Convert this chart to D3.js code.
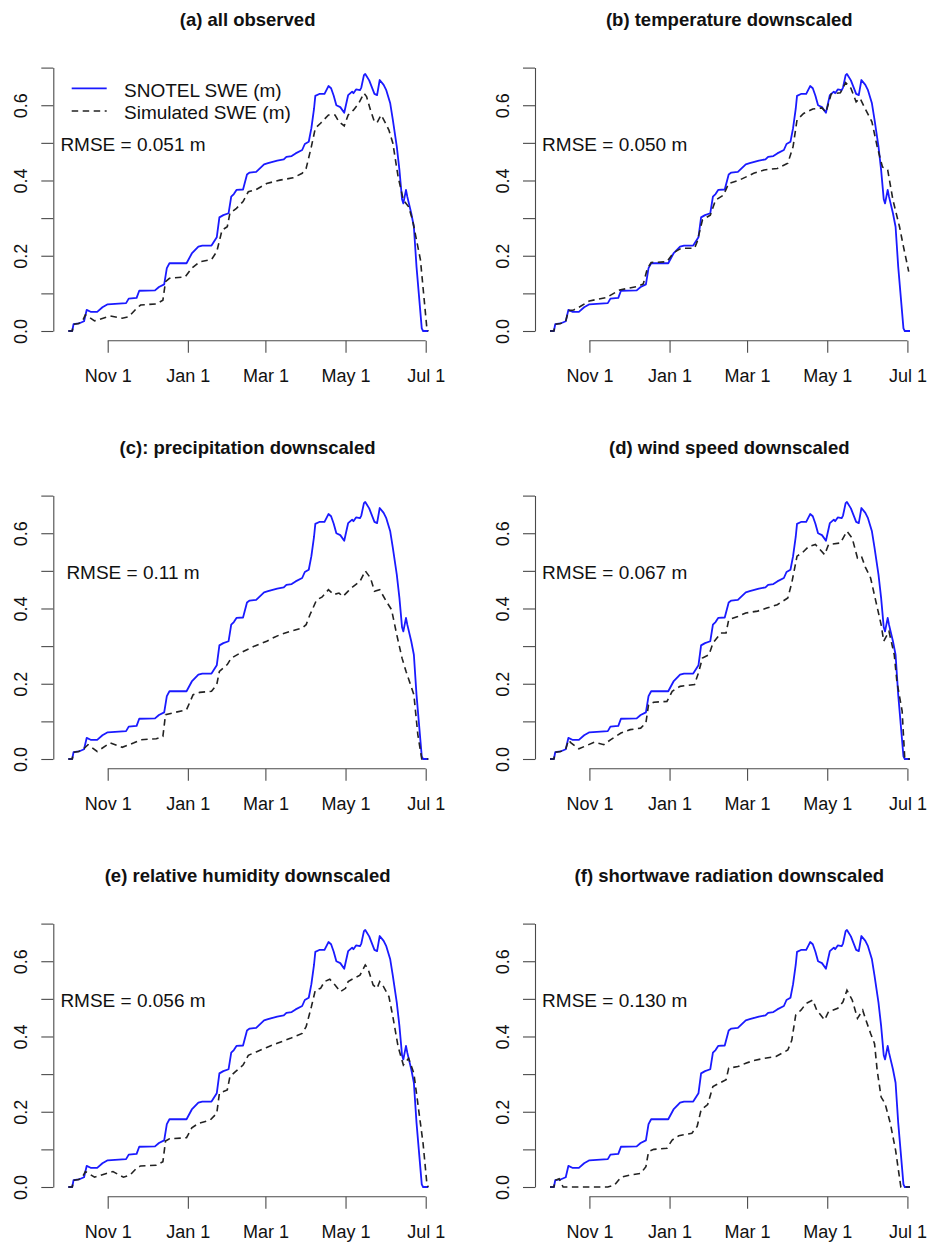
<!DOCTYPE html>
<html>
<head>
<meta charset="utf-8">
<script src="https://cdn.jsdelivr.net/npm/d3@7"></script>
<style>
  body { margin: 0; background: #fff; }
  svg { display: block; font-family: "Liberation Sans", Arial, sans-serif; }
</style>
</head>
<body>
<svg id="chart" width="928" height="1245"></svg>
<script>
// water year starts Oct 1; every series is [day since Oct 1, SWE in m]
var waterYearStart = new Date(Date.UTC(2006, 9, 1));

var titles = [
    "(a) all observed",
    "(b) temperature downscaled",
    "(c): precipitation downscaled",
    "(d) wind speed downscaled",
    "(e) relative humidity downscaled",
    "(f) shortwave radiation downscaled"
];
var rmseLabels = ["RMSE = 0.051 m", "RMSE = 0.050 m", "RMSE = 0.11 m",
                  "RMSE = 0.067 m", "RMSE = 0.056 m", "RMSE = 0.130 m"];

var yTicks = [0, 0.1, 0.2, 0.3, 0.4, 0.5, 0.6, 0.7];
var xTickDays = [31, 92, 151, 212, 273];   // Nov 1, Jan 1, Mar 1, May 1, Jul 1

var snotel = [[1,0],[4,0],[5,0.018],[9,0.020],[13,0.026],[15,0.056],[18,0.051],[23,0.051],[27,0.063],[31,0.071],
    [45,0.074],[47,0.086],[53,0.088],[55,0.107],[67,0.108],[70,0.117],[74,0.124],[76,0.167],[78,0.180],[91,0.180],
    [95,0.206],[100,0.224],[103,0.227],[110,0.227],[114,0.249],[116,0.302],[119,0.308],[123,0.313],[125,0.357],
    [127,0.364],[129,0.375],[134,0.376],[137,0.416],[139,0.421],[144,0.423],[150,0.443],[153,0.446],[160,0.453],
    [165,0.456],[167,0.463],[171,0.465],[174,0.472],[179,0.481],[181,0.497],[184,0.503],[186,0.539],[188,0.590],
    [189,0.625],[192,0.630],[196,0.630],[199,0.651],[201,0.645],[203,0.625],[205,0.600],[208,0.595],[211,0.580],
    [214,0.627],[217,0.636],[218,0.632],[220,0.642],[223,0.640],[224,0.647],[226,0.680],[227,0.683],[230,0.666],
    [234,0.630],[236,0.627],[238,0.667],[241,0.654],[243,0.640],[246,0.605],[248,0.561],[251,0.490],[253,0.428],
    [255,0.350],[256,0.339],[258,0.375],[259,0.357],[262,0.313],[264,0.277],[266,0.171],[270,0.007],[271,0],[275,0]];

var simAll = [[1,0],[4,0],[5,0.018],[9,0.020],[12,0.028],[14,0.043],[21,0.027],[33,0.040],[42,0.034],[47,0.038],
    [53,0.060],[56,0.069],[68,0.072],[73,0.082],[75,0.131],[78,0.140],[90,0.144],[95,0.167],[101,0.184],[110,0.190],
    [114,0.211],[118,0.268],[122,0.277],[124,0.313],[129,0.326],[134,0.344],[138,0.370],[144,0.376],[152,0.392],
    [162,0.401],[172,0.407],[179,0.419],[182,0.432],[186,0.490],[189,0.539],[193,0.552],[199,0.574],[204,0.574],
    [207,0.556],[211,0.545],[214,0.574],[218,0.587],[222,0.605],[226,0.632],[228,0.623],[231,0.587],[234,0.556],
    [236,0.554],[239,0.574],[241,0.562],[245,0.534],[248,0.499],[252,0.410],[256,0.348],[260,0.330],[263,0.295],
    [269,0.189],[274,0.003],[275,0]];

var simTemp = [[1,0],[4,0],[5,0.018],[9,0.020],[13,0.026],[15,0.054],[19,0.056],[24,0.065],[31,0.080],[44,0.089],
    [54,0.109],[67,0.118],[72,0.125],[75,0.165],[78,0.182],[90,0.184],[95,0.208],[101,0.220],[111,0.220],[113,0.237],
    [117,0.295],[123,0.308],[127,0.348],[133,0.361],[137,0.392],[145,0.401],[156,0.419],[164,0.428],[174,0.432],
    [182,0.446],[186,0.490],[189,0.561],[194,0.578],[201,0.590],[208,0.593],[211,0.581],[215,0.630],[222,0.633],
    [226,0.660],[230,0.645],[234,0.609],[237,0.618],[241,0.590],[246,0.556],[250,0.490],[254,0.436],[258,0.428],
    [262,0.348],[267,0.277],[270,0.224],[274,0.158]];

var simPrecip = [[1,0],[4,0],[5,0.018],[9,0.020],[13,0.028],[16,0.038],[23,0.020],[33,0.043],[42,0.031],[51,0.043],
    [56,0.051],[68,0.054],[73,0.060],[75,0.118],[80,0.122],[91,0.131],[96,0.171],[101,0.177],[110,0.180],[114,0.198],
    [116,0.233],[122,0.251],[125,0.268],[132,0.282],[142,0.299],[152,0.313],[157,0.322],[162,0.330],[170,0.339],
    [179,0.348],[182,0.357],[185,0.384],[190,0.423],[194,0.430],[199,0.450],[203,0.437],[207,0.441],[210,0.432],
    [214,0.446],[218,0.459],[223,0.472],[227,0.500],[231,0.481],[234,0.446],[238,0.450],[243,0.419],[247,0.397],
    [251,0.330],[255,0.268],[258,0.233],[264,0.171],[267,0.065],[270,0],[275,0]];

var simWind = [[1,0],[4,0],[5,0.018],[9,0.020],[13,0.026],[15,0.050],[17,0.043],[23,0.027],[35,0.045],[42,0.038],
    [47,0.051],[55,0.069],[62,0.078],[70,0.082],[74,0.096],[76,0.144],[80,0.151],[90,0.153],[94,0.180],[100,0.193],
    [111,0.198],[114,0.229],[117,0.268],[122,0.277],[125,0.308],[131,0.335],[135,0.335],[137,0.370],[144,0.379],
    [150,0.388],[159,0.393],[166,0.401],[174,0.410],[182,0.428],[185,0.468],[189,0.539],[193,0.548],[198,0.565],
    [203,0.570],[210,0.543],[213,0.570],[222,0.574],[227,0.605],[231,0.587],[235,0.534],[238,0.539],[241,0.510],
    [245,0.481],[249,0.419],[253,0.357],[255,0.313],[259,0.339],[263,0.277],[265,0.206],[269,0.127],[271,0],[275,0]];

var simHumid = [[1,0],[4,0],[5,0.018],[9,0.020],[12,0.028],[14,0.041],[21,0.026],[30,0.036],[35,0.041],[43,0.026],
    [48,0.032],[53,0.050],[56,0.056],[68,0.058],[73,0.067],[75,0.122],[78,0.128],[91,0.131],[95,0.157],[100,0.169],
    [109,0.178],[114,0.196],[116,0.249],[122,0.258],[124,0.293],[128,0.306],[134,0.324],[138,0.350],[144,0.359],
    [152,0.371],[160,0.382],[170,0.395],[179,0.408],[182,0.426],[186,0.479],[189,0.523],[193,0.528],[196,0.546],
    [200,0.552],[204,0.537],[208,0.519],[212,0.528],[214,0.546],[218,0.554],[223,0.563],[227,0.590],[229,0.581],
    [233,0.537],[236,0.528],[238,0.546],[241,0.532],[245,0.506],[248,0.453],[252,0.373],[256,0.324],[260,0.342],
    [264,0.302],[267,0.222],[271,0.116],[274,0.005],[275,0]];

var simShortwave = [[1,0],[4,0],[5,0.018],[8,0.022],[11,0],[45,0],[50,0.005],[55,0.026],[62,0.032],[70,0.036],
    [74,0.054],[76,0.094],[80,0.100],[90,0.103],[94,0.125],[99,0.136],[109,0.143],[113,0.161],[116,0.205],[121,0.219],
    [125,0.267],[130,0.276],[135,0.285],[137,0.316],[144,0.320],[150,0.329],[156,0.336],[164,0.342],[173,0.347],
    [182,0.364],[185,0.390],[188,0.457],[192,0.470],[196,0.488],[201,0.497],[204,0.470],[210,0.444],[213,0.466],
    [220,0.475],[224,0.492],[227,0.523],[231,0.497],[235,0.448],[239,0.470],[241,0.448],[245,0.408],[248,0.381],
    [250,0.310],[253,0.239],[256,0.222],[260,0.169],[264,0.098],[268,0],[275,0]];

var simulated = [simAll, simTemp, simPrecip, simWind, simHumid, simShortwave];

// panel geometry (same inside every panel)
var colX = [0, 481.7];
var rowY = [0, 428, 856];
var axisColor = "#4a4a4a";

function dayDate(d) {
    return d3.utcDay.offset(waterYearStart, d);
}

var x = d3.scaleUtc()
    .domain([dayDate(31), dayDate(273)])
    .range([107.7, 425.7]);
var y = d3.scaleLinear()
    .domain([0, 0.7])
    .range([331, 67.6]);

var line = d3.line()
    .x(function (d) { return x(dayDate(d[0])); })
    .y(function (d) { return y(d[1]); });

var svg = d3.select("#chart");
svg.append("rect").attr("width", 928).attr("height", 1245).attr("fill", "#fff");

function drawPanel(i) {
    var g = svg.append("g")
        .attr("transform", "translate(" + colX[i % 2] + "," + rowY[Math.floor(i / 2)] + ")");

    g.append("text")
        .attr("x", 247.6).attr("y", 26)
        .attr("text-anchor", "middle")
        .attr("font-weight", "bold")
        .attr("font-size", 18.5)
        .attr("fill", "#111")
        .text(titles[i]);

    // y axis, labels only on even tenths, rotated like R's las=0
    var ya = g.append("g")
        .attr("transform", "translate(53.3,0)")
        .call(d3.axisLeft(y)
            .tickValues(yTicks)
            .tickSize(12)
            .tickSizeOuter(0)
            .tickFormat(function (d) {
                return Math.round(d * 10) % 2 === 0 ? d.toFixed(1) : "";
            }));
    ya.selectAll(".tick text")
        .attr("x", 0).attr("y", 0).attr("dy", null)
        .attr("text-anchor", "middle")
        .attr("transform", "translate(-26,0) rotate(-90)");

    // x axis, line spans first to last tick only
    var xa = g.append("g")
        .attr("transform", "translate(0,340.7)")
        .call(d3.axisBottom(x)
            .tickValues(xTickDays.map(dayDate))
            .tickSize(12)
            .tickPadding(17)
            .tickFormat(d3.utcFormat("%b %-d")));
    xa.select(".domain").remove();
    xa.append("line")
        .attr("x1", x(dayDate(xTickDays[0])))
        .attr("x2", x(dayDate(xTickDays[xTickDays.length - 1])))
        .attr("stroke", axisColor);

    [ya, xa].forEach(function (a) {
        a.attr("font-size", 18).attr("font-family", null);
        a.selectAll("path, line").attr("stroke", axisColor).attr("stroke-width", 1.1);
        a.selectAll("text").attr("fill", "#111");
    });

    g.append("path")
        .datum(snotel)
        .attr("d", line)
        .attr("fill", "none")
        .attr("stroke", "#1a1aff")
        .attr("stroke-width", 1.8)
        .attr("stroke-linejoin", "round");

    g.append("path")
        .datum(simulated[i])
        .attr("d", line)
        .attr("fill", "none")
        .attr("stroke", "#222")
        .attr("stroke-width", 1.6)
        .attr("stroke-dasharray", "6.5,4.5");

    g.append("text")
        .attr("x", 133).attr("y", 150.7)
        .attr("text-anchor", "middle")
        .attr("font-size", 19)
        .attr("fill", "#111")
        .text(rmseLabels[i]);

    if (i === 0) {
        var lg = g.append("g");
        lg.append("line")
            .attr("x1", 71.7).attr("x2", 106.7).attr("y1", 88.3).attr("y2", 88.3)
            .attr("stroke", "#1a1aff").attr("stroke-width", 1.8);
        lg.append("line")
            .attr("x1", 71.7).attr("x2", 106.7).attr("y1", 111).attr("y2", 111)
            .attr("stroke", "#222").attr("stroke-width", 1.6)
            .attr("stroke-dasharray", "6.5,4.5");
        lg.append("text")
            .attr("x", 124).attr("y", 96.5)
            .attr("font-size", 19).attr("fill", "#111")
            .text("SNOTEL SWE (m)");
        lg.append("text")
            .attr("x", 124).attr("y", 119.3)
            .attr("font-size", 19).attr("fill", "#111")
            .text("Simulated SWE (m)");
    }
}

for (var i = 0; i < 6; i++) {
    drawPanel(i);
}
</script>
</body>
</html>
